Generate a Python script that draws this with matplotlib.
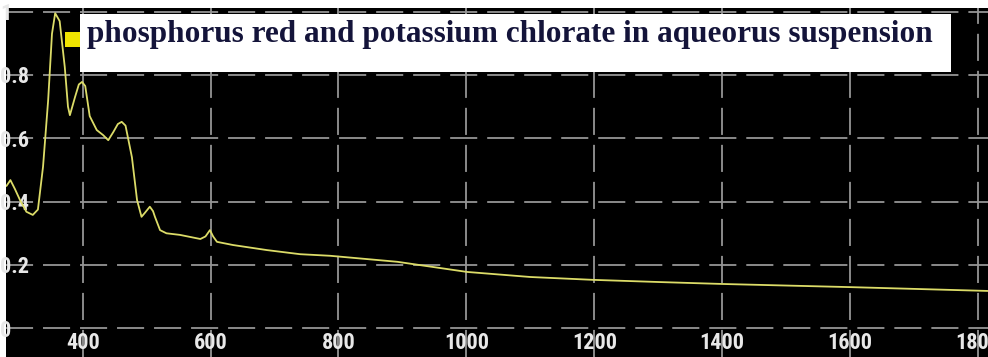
import matplotlib.pyplot as plt
from matplotlib import font_manager
from matplotlib.patches import Rectangle

# spectrum
wavelength = [281, 287, 294, 302, 312, 322, 330, 338, 346, 352, 357, 364, 372, 377, 380,
              388, 394, 399, 404, 411, 422, 432, 440, 448, 455, 461, 467, 472, 477, 485,
              492, 497, 505, 510, 513, 521, 531, 552, 584, 592, 599, 604, 610, 635, 688,
              740, 787, 892, 1001, 1100, 1198, 1303, 1400, 1601, 1815]
absorbance = [0.45, 0.468, 0.44, 0.405, 0.368, 0.358, 0.375, 0.51, 0.72, 0.93, 0.995, 0.97, 0.825, 0.70, 0.673,
              0.73, 0.77, 0.778, 0.765, 0.67, 0.626, 0.61, 0.594, 0.62, 0.645, 0.652, 0.64, 0.59, 0.54, 0.405,
              0.352, 0.364, 0.384, 0.37, 0.352, 0.31, 0.30, 0.295, 0.282, 0.29, 0.31, 0.29, 0.273, 0.263, 0.247,
              0.234, 0.229, 0.21, 0.178, 0.162, 0.153, 0.146, 0.14, 0.13, 0.118]

x_ticks = [400, 600, 800, 1000, 1200, 1400, 1600, 1800]
x_labels = ['400', '600', '800', '1000', '1200', '1400', '1600', '1800']
y_ticks = [0, 0.2, 0.4, 0.6, 0.8, 1.0]
y_labels = ['0', '0.2', '0.4', '0.6', '0.8', '1']

series_label = 'phosphorus red and potassium chlorate in aqueorus suspension'

W, H = 988, 357

# narrow sans for the tick numbers, whichever is installed
installed = {f.name for f in font_manager.fontManager.ttflist}
tick_font = 'Liberation Sans'
for name in ['Liberation Sans Narrow', 'DejaVu Sans Condensed', 'Roboto Condensed']:
    if name in installed:
        tick_font = name
        break

fig = plt.figure(figsize=(W / 100, H / 100), dpi=100, facecolor='white')
ax = fig.add_axes([6 / W, 0, 1 - 6 / W, 1 - 8 / H])
ax.set_facecolor('black')
for s in ax.spines.values():
    s.set_visible(False)

ax.plot(wavelength, absorbance, color='#dcdc68', lw=1.3, zorder=3)

ax.set_xlim(280.1, 1815.6)
ax.set_ylim(-0.0906, 1.0114)
ax.set_xticks(x_ticks)
ax.set_xticklabels(x_labels)
ax.set_yticks(y_ticks)
ax.set_yticklabels(y_labels)
ax.grid(True, color='#959595', lw=1.3, linestyle=(0, (15, 5.5)))

ax.tick_params(length=0, colors='#e8e8e8', labelsize=16)
ax.tick_params(axis='x', pad=-18)
ax.tick_params(axis='y', pad=4.3)
for lab in ax.get_xticklabels() + ax.get_yticklabels():
    lab.set_family(tick_font)
    lab.set_weight('bold')
for lab in ax.get_yticklabels():
    lab.set_horizontalalignment('left')

# legend-like label box, as in the screenshot
fig.add_artist(Rectangle((80 / W, 1 - 72 / H), (951 - 80) / W, (72 - 14) / H,
                         transform=fig.transFigure, fc='white', ec='none'))
fig.add_artist(Rectangle((65 / W, 1 - 47 / H), 15 / W, 15 / H,
                         transform=fig.transFigure, fc='#f0e400', ec='none'))
fig.text(87 / W, 1 - 42 / H, series_label, fontfamily=['Liberation Serif', 'DejaVu Serif'],
         weight='bold', fontsize=22.5, color='#14143a', ha='left', va='baseline')

fig.savefig('out.png', dpi=100, facecolor='white')
